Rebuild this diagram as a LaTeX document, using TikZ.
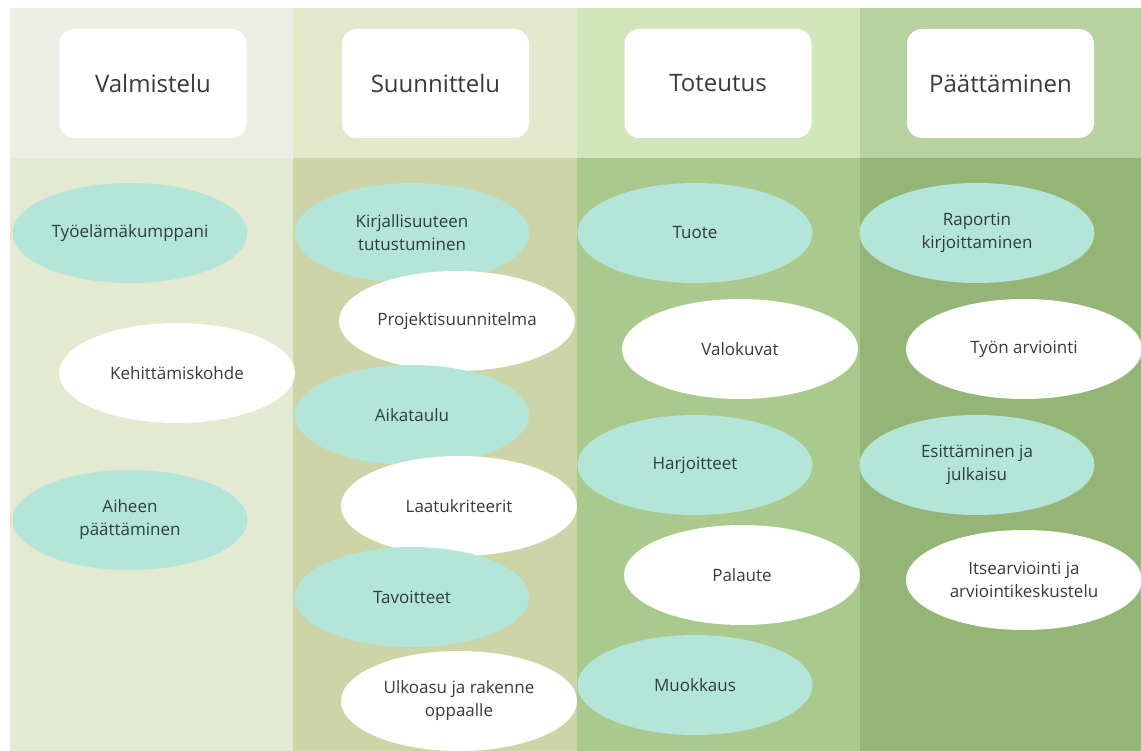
\documentclass[tikz,border=0pt]{standalone}
\usepackage{fontspec}
\setmainfont{Open Sans}
\usetikzlibrary{shapes.geometric}
\definecolor{hA}{HTML}{EDEEE3}
\definecolor{bA}{HTML}{E4E9D2}
\definecolor{hB}{HTML}{E3E8CD}
\definecolor{bB}{HTML}{CDD4A7}
\definecolor{hC}{HTML}{D2E6BB}
\definecolor{bC}{HTML}{AAC98C}
\definecolor{hD}{HTML}{B8D1A0}
\definecolor{bD}{HTML}{95B576}
\definecolor{teal}{HTML}{B3E6D8}
\definecolor{txtT}{HTML}{2F3D3A}
\definecolor{txtW}{HTML}{3A3A3A}
\tikzset{
  phasebox/.style={fill=white, rounded corners=15pt, minimum width=187pt, minimum height=109pt, inner sep=0pt, text=txtW, font=\fontsize{24}{29}\selectfont},
  tealell/.style={ellipse, fill=teal, minimum width=235pt, minimum height=100pt, inner sep=0pt, align=center, text=txtT, font=\fontsize{17}{23}\selectfont},
  whiteell/.style={ellipse, fill=white, minimum width=236pt, minimum height=100pt, inner sep=0pt, align=center, text=txtW, font=\fontsize{17}{23}\selectfont}
}
\begin{document}
\begin{tikzpicture}[x=1pt,y=-1pt]
\useasboundingbox (0,0) rectangle (1141,751);
\fill[white] (0,0) rectangle (1141,751);
% column backgrounds
\fill[hA] (10,8) rectangle (293,158);
\fill[bA] (10,158) rectangle (293,751);
\fill[hB] (293,8) rectangle (577,158);
\fill[bB] (293,158) rectangle (577,751);
\fill[hC] (577,8) rectangle (860,158);
\fill[bC] (577,158) rectangle (860,751);
\fill[hD] (860,8) rectangle (1141,158);
\fill[bD] (860,158) rectangle (1141,751);
% headers
\node[phasebox] (h1) at (153,83.5) {Valmistelu};
\node[phasebox] (h2) at (435.5,83.5) {Suunnittelu};
\node[phasebox] (h3) at (718,83.5) {Toteutus};
\node[phasebox] (h4) at (1000.5,83.5) {Päättäminen};
% column 1
\node[tealell] (a1) at (130,233) {Työelämäkumppani};
\node[whiteell] (a2) at (177,373) {Kehittämiskohde};
\node[tealell] (a3) at (130,520) {Aiheen\\päättäminen};
% column 2
\node[tealell] (b1) at (412,233) {Kirjallisuuteen\\tutustuminen};
\node[whiteell] (b2) at (457,321) {Projektisuunnitelma};
\node[tealell] (b3) at (412,415) {Aikataulu};
\node[whiteell] (b4) at (459,506) {Laatukriteerit};
\node[tealell] (b5) at (412,597) {Tavoitteet};
\node[whiteell] (b6) at (459,701) {Ulkoasu ja rakenne\\oppaalle};
% column 3
\node[tealell] (c1) at (695,233) {Tuote};
\node[whiteell] (c2) at (740,349) {Valokuvat};
\node[tealell] (c3) at (695,465) {Harjoitteet};
\node[whiteell] (c4) at (742,575) {Palaute};
\node[tealell] (c5) at (695,685) {Muokkaus};
% column 4
\node[tealell] (d1) at (977,233) {Raportin\\kirjoittaminen};
\node[whiteell] (d2) at (1024,349) {Työn arviointi};
\node[tealell] (d3) at (977,465) {Esittäminen ja\\julkaisu};
\node[whiteell] (d4) at (1024,580) {Itsearviointi ja\\arviointikeskustelu};
\end{tikzpicture}
\end{document}
